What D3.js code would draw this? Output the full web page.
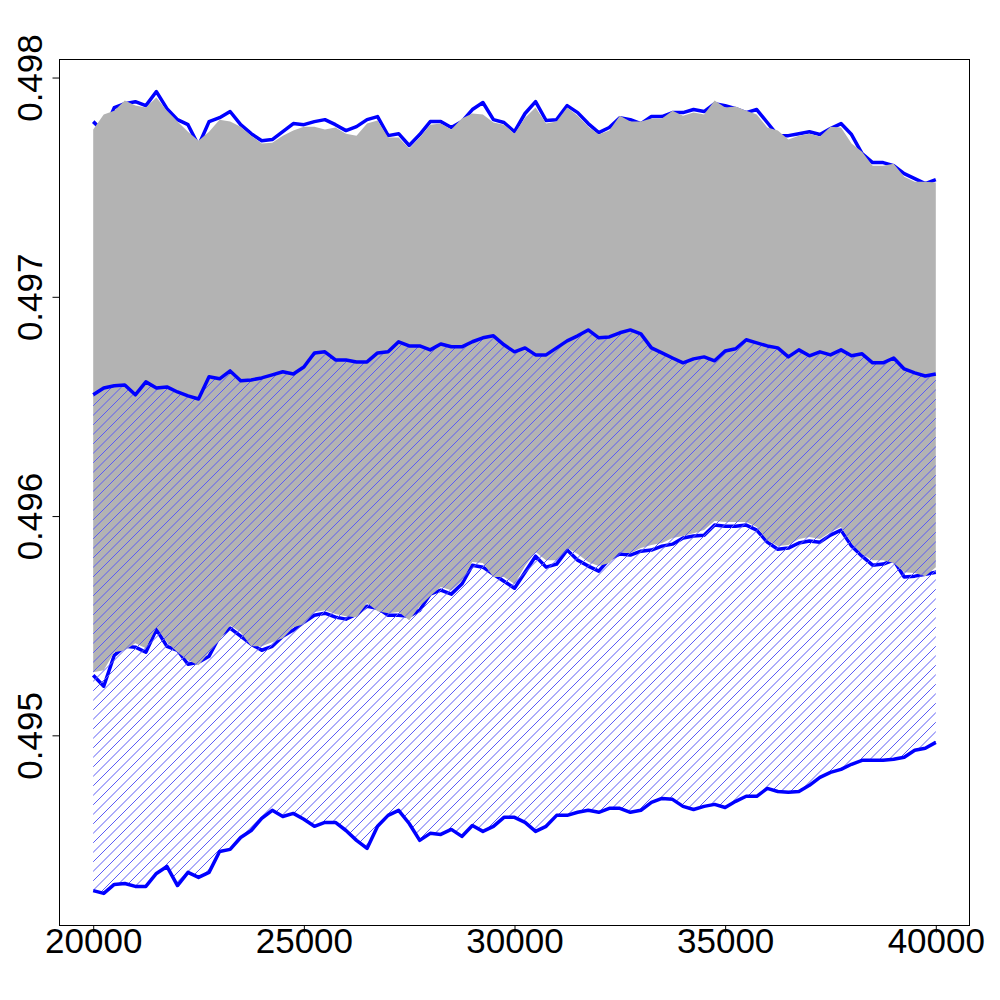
<!DOCTYPE html>
<html>
<head>
<meta charset="utf-8">
<script src="https://cdn.jsdelivr.net/npm/d3@7"></script>
<style>
body { margin: 0; background: #fff; }
text { font-family: "Liberation Sans", Arial, sans-serif; }
</style>
</head>
<body>
<div id="chartDiv"></div>
<script>
// sample positions along x
var xSteps = d3.range(20000, 40001, 250);

// blue lines, top to bottom
var upperLine = [
    0.497799, 0.497753, 0.497863, 0.497881, 0.497890, 0.497872, 0.497936, 0.497858, 0.497808, 0.497785,
    0.497690, 0.497799, 0.497817, 0.497845, 0.497785, 0.497744, 0.497712, 0.497717, 0.497753, 0.497790,
    0.497785, 0.497799, 0.497808, 0.497785, 0.497758, 0.497776, 0.497808, 0.497822, 0.497735, 0.497744,
    0.497690, 0.497740, 0.497799, 0.497799, 0.497772, 0.497799, 0.497854, 0.497886, 0.497808, 0.497795,
    0.497753, 0.497836, 0.497890, 0.497804, 0.497808, 0.497872, 0.497840, 0.497790, 0.497749, 0.497772,
    0.497817, 0.497808, 0.497790, 0.497822, 0.497822, 0.497840, 0.497840, 0.497854, 0.497845, 0.497881,
    0.497872, 0.497858, 0.497840, 0.497854, 0.497795, 0.497735, 0.497735, 0.497744, 0.497753, 0.497740,
    0.497767, 0.497790, 0.497740, 0.497653, 0.497612, 0.497612, 0.497598, 0.497562, 0.497539, 0.497516,
    0.497534
];
var midLine = [
    0.496553, 0.496584, 0.496594, 0.496598, 0.496553, 0.496612, 0.496584, 0.496589, 0.496566, 0.496548,
    0.496534, 0.496635, 0.496626, 0.496662, 0.496617, 0.496621, 0.496630, 0.496644, 0.496658, 0.496648,
    0.496680, 0.496744, 0.496749, 0.496712, 0.496712, 0.496703, 0.496703, 0.496744, 0.496749, 0.496795,
    0.496776, 0.496776, 0.496758, 0.496785, 0.496772, 0.496772, 0.496795, 0.496813, 0.496822, 0.496781,
    0.496749, 0.496767, 0.496735, 0.496735, 0.496767, 0.496799, 0.496822, 0.496849, 0.496813, 0.496817,
    0.496836, 0.496849, 0.496831, 0.496767, 0.496744, 0.496721, 0.496699, 0.496717, 0.496726, 0.496708,
    0.496753, 0.496763, 0.496804, 0.496790, 0.496776, 0.496767, 0.496726, 0.496758, 0.496731, 0.496749,
    0.496735, 0.496758, 0.496731, 0.496740, 0.496699, 0.496699, 0.496721, 0.496671, 0.496653, 0.496639,
    0.496648
];
var lowerLine = [
    0.495274, 0.495224, 0.495365, 0.495406, 0.495402, 0.495379, 0.495484, 0.495406, 0.495388, 0.495324,
    0.495333, 0.495361, 0.495452, 0.495489, 0.495452, 0.495416, 0.495388, 0.495406, 0.495452, 0.495480,
    0.495516, 0.495548, 0.495557, 0.495539, 0.495530, 0.495553, 0.495589, 0.495580, 0.495548, 0.495548,
    0.495543, 0.495571, 0.495644, 0.495662, 0.495644, 0.495690, 0.495776, 0.495767, 0.495735, 0.495703,
    0.495671, 0.495744, 0.495817, 0.495767, 0.495781, 0.495845, 0.495799, 0.495772, 0.495749, 0.495804,
    0.495827, 0.495822, 0.495840, 0.495845, 0.495863, 0.495872, 0.495900, 0.495909, 0.495913, 0.495959,
    0.495954, 0.495954, 0.495959, 0.495936, 0.495881, 0.495849, 0.495854, 0.495877, 0.495886, 0.495881,
    0.495913, 0.495936, 0.495863, 0.495817, 0.495776, 0.495781, 0.495799, 0.495722, 0.495726, 0.495735,
    0.495744
];
var bottomLine = [
    0.494292, 0.494279, 0.494320, 0.494324, 0.494311, 0.494311, 0.494370, 0.494402, 0.494315, 0.494375,
    0.494352, 0.494375, 0.494470, 0.494480, 0.494534, 0.494566, 0.494621, 0.494658, 0.494630, 0.494644,
    0.494617, 0.494585, 0.494603, 0.494603, 0.494566, 0.494521, 0.494484, 0.494585, 0.494635, 0.494658,
    0.494598, 0.494521, 0.494553, 0.494548, 0.494571, 0.494539, 0.494589, 0.494562, 0.494585, 0.494626,
    0.494626, 0.494603, 0.494562, 0.494585, 0.494635, 0.494635, 0.494649, 0.494658, 0.494649, 0.494667,
    0.494667, 0.494649, 0.494658, 0.494694, 0.494712, 0.494708, 0.494676, 0.494662, 0.494676, 0.494685,
    0.494671, 0.494699, 0.494722, 0.494722, 0.494758, 0.494744, 0.494740, 0.494744, 0.494772, 0.494808,
    0.494831, 0.494845, 0.494868, 0.494886, 0.494886, 0.494886, 0.494891, 0.494900, 0.494932, 0.494941,
    0.494968
];

// edges of the grey band
var grayTop = [
    0.497763, 0.497831, 0.497849, 0.497895, 0.497872, 0.497863, 0.497909, 0.497849, 0.497799, 0.497753,
    0.497712, 0.497753, 0.497808, 0.497799, 0.497776, 0.497735, 0.497699, 0.497703, 0.497735, 0.497758,
    0.497776, 0.497776, 0.497763, 0.497772, 0.497744, 0.497735, 0.497790, 0.497804, 0.497726, 0.497726,
    0.497676, 0.497726, 0.497785, 0.497790, 0.497763, 0.497813, 0.497836, 0.497831, 0.497795, 0.497785,
    0.497744, 0.497817, 0.497863, 0.497790, 0.497799, 0.497863, 0.497826, 0.497776, 0.497740, 0.497758,
    0.497826, 0.497799, 0.497799, 0.497813, 0.497813, 0.497849, 0.497826, 0.497840, 0.497831, 0.497895,
    0.497863, 0.497868, 0.497849, 0.497831, 0.497772, 0.497758, 0.497717, 0.497735, 0.497744, 0.497731,
    0.497776, 0.497772, 0.497699, 0.497662, 0.497598, 0.497598, 0.497607, 0.497548, 0.497525, 0.497525,
    0.497521
];
var grayBottom = [
    0.495288, 0.495297, 0.495379, 0.495388, 0.495420, 0.495397, 0.495493, 0.495425, 0.495379, 0.495343,
    0.495320, 0.495379, 0.495434, 0.495502, 0.495470, 0.495406, 0.495406, 0.495425, 0.495443, 0.495493,
    0.495507, 0.495562, 0.495571, 0.495553, 0.495543, 0.495539, 0.495603, 0.495566, 0.495557, 0.495562,
    0.495525, 0.495589, 0.495635, 0.495676, 0.495662, 0.495703, 0.495790, 0.495786, 0.495722, 0.495722,
    0.495690, 0.495772, 0.495836, 0.495799, 0.495799, 0.495854, 0.495827, 0.495790, 0.495772, 0.495786,
    0.495836, 0.495831, 0.495854, 0.495868, 0.495877, 0.495900, 0.495909, 0.495922, 0.495936, 0.495977,
    0.495973, 0.495973, 0.495973, 0.495950, 0.495890, 0.495863, 0.495868, 0.495895, 0.495904, 0.495895,
    0.495927, 0.495950, 0.495877, 0.495827, 0.495799, 0.495799, 0.495786, 0.495744, 0.495740, 0.495726,
    0.495767
];

var xTicks = [20000, 25000, 30000, 35000, 40000];
var yTicks = [0.495, 0.496, 0.497, 0.498];

var width = 1000;
var height = 1000;
var box = { left: 59.5, right: 969.5, top: 59.5, bottom: 925.5 };
var lineColor = "#0000ff";
var hatchColor = "#5a5af5";
var grayColor = "#b3b3b3";
var hatchGap = 9.5;

// R style 4% padding of the data range
function pad(r) {
    var e = (r[1] - r[0]) * 0.04;
    return [r[0] - e, r[1] + e];
}

var allY = upperLine.concat(midLine, lowerLine, bottomLine, grayTop, grayBottom);

var x = d3.scaleLinear().domain(pad([20000, 40000])).range([box.left, box.right]);
var y = d3.scaleLinear().domain(pad(d3.extent(allY))).range([box.bottom, box.top]);

var chart = d3.select("#chartDiv").append("svg")
    .attr("width", width)
    .attr("height", height);

chart.append("rect")
    .attr("width", width)
    .attr("height", height)
    .attr("fill", "#fff");

function linePath(series) {
    return d3.line()
        .x(function(d, i) { return x(xSteps[i]); })
        .y(function(d) { return y(d); })(series);
}

function bandPath(lo, hi) {
    return d3.area()
        .x(function(d) { return x(d); })
        .y0(function(d, i) { return y(lo[i]); })
        .y1(function(d, i) { return y(hi[i]); })(xSteps);
}

// lines that sit under the grey band
[upperLine, lowerLine].forEach(function(s) {
    chart.append("path")
        .attr("d", linePath(s))
        .attr("fill", "none")
        .attr("stroke", lineColor)
        .attr("stroke-width", 3.5)
        .attr("stroke-linejoin", "round");
});

// grey band
chart.append("path")
    .attr("d", bandPath(grayBottom, grayTop))
    .attr("fill", grayColor)
    .attr("stroke", "none");

// hatched band between middle and bottom line
chart.append("clipPath")
    .attr("id", "hatchClip")
    .append("path")
    .attr("d", bandPath(bottomLine, midLine));

var span = box.bottom - box.top;
var hatch = chart.append("g").attr("clip-path", "url(#hatchClip)");
hatch.selectAll("line")
    .data(d3.range(box.left - span, box.right, hatchGap))
    .enter().append("line")
    .attr("x1", function(d) { return d; })
    .attr("y1", box.bottom)
    .attr("x2", function(d) { return d + span; })
    .attr("y2", box.top)
    .attr("stroke", hatchColor)
    .attr("stroke-width", 1);

// lines on top
[midLine, bottomLine].forEach(function(s) {
    chart.append("path")
        .attr("d", linePath(s))
        .attr("fill", "none")
        .attr("stroke", lineColor)
        .attr("stroke-width", 3.5)
        .attr("stroke-linejoin", "round");
});

// box
chart.append("rect")
    .attr("x", box.left)
    .attr("y", box.top)
    .attr("width", box.right - box.left)
    .attr("height", box.bottom - box.top)
    .attr("fill", "none")
    .attr("stroke", "#000")
    .attr("stroke-width", 1);

// x axis
var xAxis = d3.axisBottom(x)
    .tickValues(xTicks)
    .tickSize(7)
    .tickFormat(d3.format("d"));

var gx = chart.append("g")
    .attr("transform", "translate(0," + box.bottom + ")")
    .call(xAxis);
gx.select(".domain").remove();
gx.selectAll("line").attr("stroke", "#000");
gx.selectAll("text")
    .attr("y", 27.5)
    .attr("dy", "0")
    .attr("fill", "#000")
    .style("font-size", "35px")
    .style("font-family", "'Liberation Sans', Arial, sans-serif");

// y axis, labels rotated like R
var yAxis = d3.axisLeft(y)
    .tickValues(yTicks)
    .tickSize(7)
    .tickFormat(d3.format(".3f"));

var gy = chart.append("g")
    .attr("transform", "translate(" + box.left + ",0)")
    .call(yAxis);
gy.select(".domain").remove();
gy.selectAll("line").attr("stroke", "#000");
gy.selectAll("text")
    .attr("x", 0)
    .attr("y", -17.5)
    .attr("dy", "0")
    .attr("text-anchor", "middle")
    .attr("transform", "rotate(-90)")
    .attr("fill", "#000")
    .style("font-size", "35px")
    .style("font-family", "'Liberation Sans', Arial, sans-serif");
</script>
</body>
</html>
